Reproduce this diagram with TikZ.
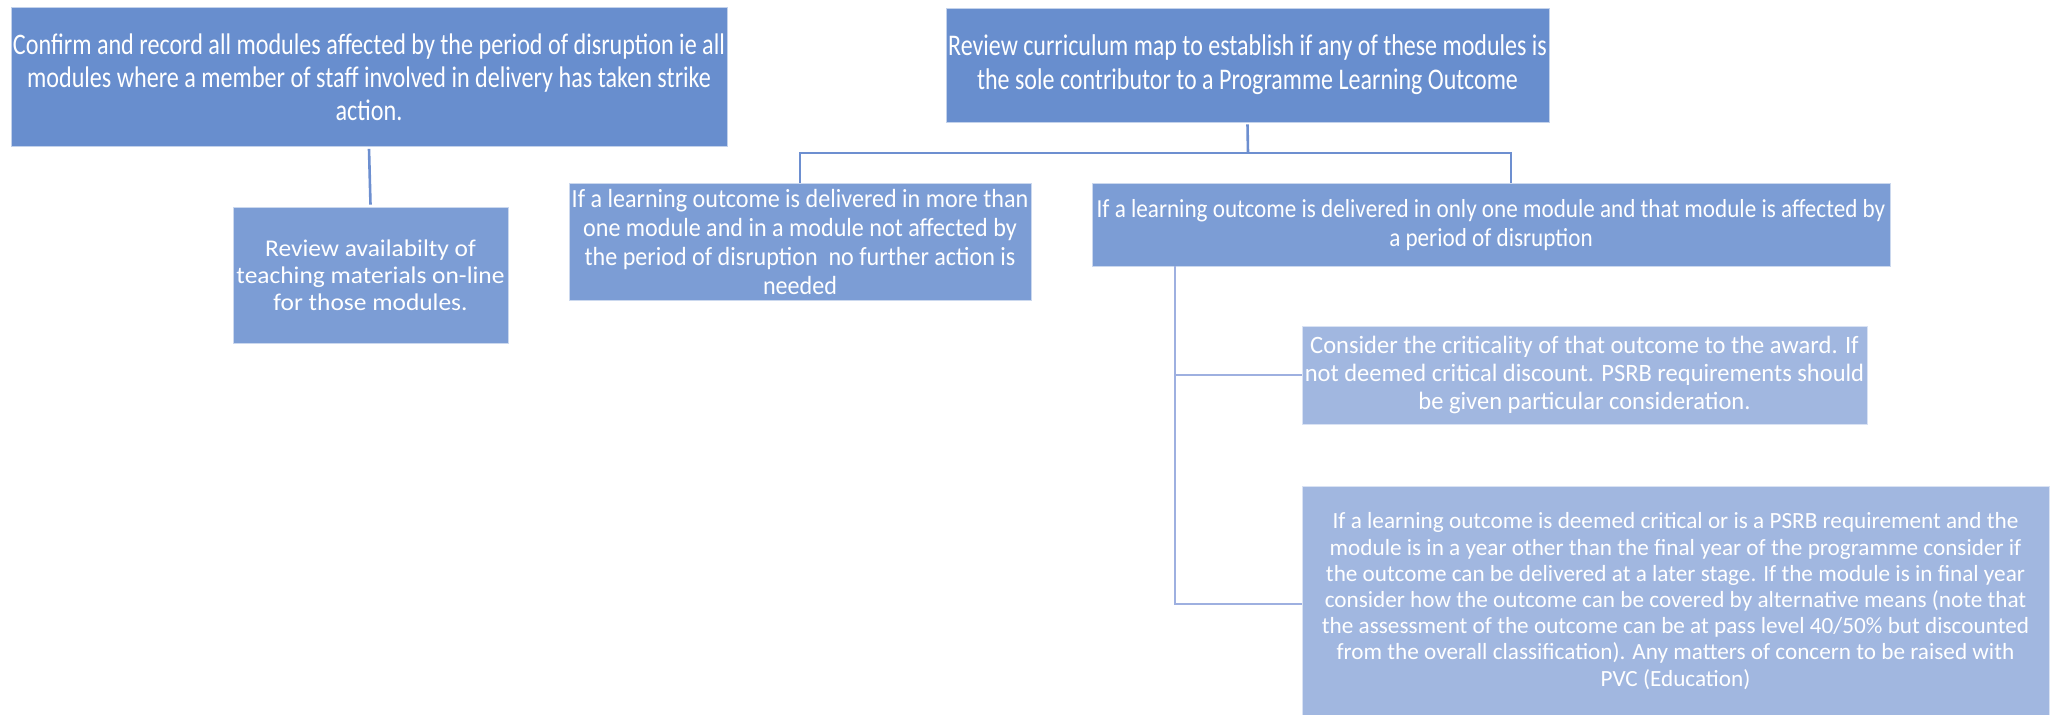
\documentclass[tikz,border=0pt]{standalone}
\usepackage{fontspec}
\setmainfont{Carlito}
\newfontfamily\fOne[FakeStretch=0.81]{Carlito}
\newfontfamily\fThree[FakeStretch=0.80]{Carlito}
\newfontfamily\fFive[FakeStretch=0.89]{Carlito}
\newfontfamily\fFour[FakeStretch=0.92]{Carlito}
\newfontfamily\fTwo[FakeStretch=1.06]{Carlito}
\newfontfamily\fSix[FakeStretch=0.98]{Carlito}
\newfontfamily\fSeven[FakeStretch=1.0]{Carlito}
\definecolor{cdark}{HTML}{688ECE}
\definecolor{cmid}{HTML}{7C9DD5}
\definecolor{clight}{HTML}{A1B7E0}
\definecolor{lineup}{HTML}{6D8FD0}
\definecolor{linelow}{HTML}{9EB0E0}
\begin{document}
\begin{tikzpicture}[x=1bp,y=-1bp,
  box/.style={rectangle, inner sep=0pt, align=center, text=white, draw=white!60!#1, line width=0.8bp, fill=#1},
  connup/.style={draw=lineup, line width=2.6bp},
  connlow/.style={draw=linelow, line width=2.6bp}]
\useasboundingbox (0,0) rectangle (2060,715);

\node[box=cdark, minimum width=716bp, minimum height=139bp,
  font={\fOne\fontsize{29.8bp}{33bp}\selectfont}] (b1) at (369,77)
  {Confirm and record all modules affected by the period of disruption ie all\\
   modules where a member of staff involved in delivery has taken strike\\
   action.};

\node[box=cmid, minimum width=275bp, minimum height=136bp,
  font={\fTwo\fontsize{24bp}{27bp}\selectfont}] (b2) at (370.5,275)
  {Review availabilty of\\ teaching materials on-line\\ for those modules.};

\node[box=cdark, minimum width=603bp, minimum height=114bp,
  font={\fThree\fontsize{30bp}{34bp}\selectfont}] (b3) at (1247.5,65)
  {Review curriculum map to establish if any of these modules is\\
   the sole contributor to a Programme Learning Outcome};

\node[box=cmid, minimum width=462bp, minimum height=117bp,
  font={\fFour\fontsize{26.2bp}{29bp}\selectfont}] (b4) at (800,242)
  {If a learning outcome is delivered in more than\\
   one module and in a module not affected by\\
   the period of disruption\ \ no further action is\\
   needed};

\node[box=cmid, minimum width=798bp, minimum height=83bp,
  font={\fFive\fontsize{26bp}{29bp}\selectfont}] (b5) at (1491,225)
  {If a learning outcome is delivered in only one module and that module is affected by\\
   a period of disruption};

\node[box=clight, minimum width=565bp, minimum height=98bp,
  font={\fSix\fontsize{25bp}{28bp}\selectfont}] (b6) at (1584.5,375)
  {Consider the criticality of that outcome to the award. If\\
   not deemed critical discount. PSRB requirements should\\
   be given particular consideration.};

\node[box=clight, minimum width=747bp, minimum height=230bp,
  font={\fSeven\fontsize{23.2bp}{26.2bp}\selectfont}] (b7) at (1675.5,601)
  {If a learning outcome is deemed critical or is a PSRB requirement and the\\
   module is in a year other than the final year of the programme consider if\\
   the outcome can be delivered at a later stage. If the module is in final year\\
   consider how the outcome can be covered by alternative means (note that\\
   the assessment of the outcome can be at pass level 40/50\% but discounted\\
   from the overall classification). Any matters of concern to be raised with\\
   PVC (Education)};

\coordinate (bar) at (1248,153);
\coordinate (b5t) at (1511,183);
\coordinate (s5) at (1175,266);

\draw[connup] ([yshift=-2bp]b1.south) -- ([yshift=2bp]b2.north);
\draw[connup] ([yshift=-2bp]b3.south) -- (bar);
\draw[connup] (b4.north) |- (bar) -| (b5t);
\draw[connlow] (s5) |- (b6.west);
\draw[connlow] (s5) |- ([yshift=-3bp]b7.west);
\end{tikzpicture}
\end{document}
